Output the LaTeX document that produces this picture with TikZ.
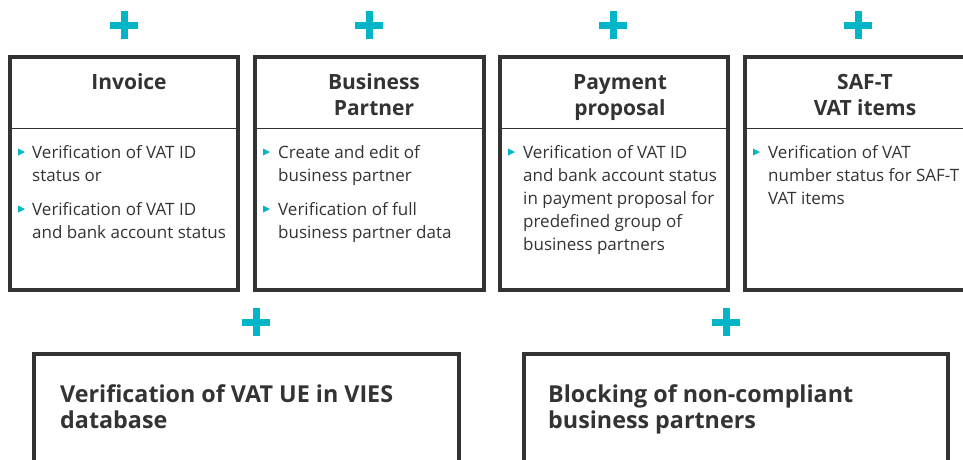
\documentclass[tikz,border=0pt]{standalone}
\usepackage{fontspec}
\setmainfont{Open Sans}
\definecolor{plusc}{HTML}{00B5C8}
\definecolor{ink}{HTML}{333333}
\tikzset{
  box/.style={draw=ink, line width=4pt},
  divider/.style={draw=ink, line width=1pt},
  plussign/.style={minimum size=28pt, inner sep=0pt, path picture={
     \fill[plusc] ([xshift=-14pt,yshift=-3.5pt]path picture bounding box.center) rectangle ++(28pt,7pt);
     \fill[plusc] ([xshift=-3.5pt,yshift=-14pt]path picture bounding box.center) rectangle ++(7pt,28pt);}},
  title/.style={font=\fontsize{21}{26}\selectfont\bfseries, text=ink, align=center, inner sep=0pt, anchor=base},
  bigtitle/.style={font=\fontsize{23.3}{26.5}\selectfont\bfseries, text=ink, align=left, inner sep=0pt, anchor=base west},
  body/.style={font=\fontsize{17}{23}\selectfont, text=ink, align=left, inner sep=0pt, anchor=base west},
  bullet/.style={fill=plusc}
}
\begin{document}
\begin{tikzpicture}[x=1pt,y=-1pt]
\useasboundingbox (0,0) rectangle (963,459);
% plus signs
\node[plussign] (p1) at (124,25) {};
\node[plussign] (p2) at (369,25) {};
\node[plussign] (p3) at (613,25) {};
\node[plussign] (p4) at (858,25) {};
\node[plussign] (p5) at (256,322) {};
\node[plussign] (p6) at (726,322) {};
% top boxes
\draw[box] (10,57) rectangle (238,290);
\draw[divider] (10,128) -- (238,128);
\draw[box] (255,57) rectangle (484,290);
\draw[divider] (255,128) -- (484,128);
\draw[box] (500,57) rectangle (728,290);
\draw[divider] (500,128) -- (728,128);
\draw[box] (745,57) rectangle (985,290);
\draw[divider] (745,128) -- (985,128);
% bottom boxes
\draw[box] (34,354) rectangle (459,480);
\draw[box] (524,354) rectangle (948,480);
% titles (anchor = baseline of last line)
\node[title] (t1) at (129,89) {Invoice};
\node[title] (t2) at (374,115) {Business\\Partner};
\node[title] (t3) at (620,115) {Payment\\proposal};
\node[title] (t4) at (865,115) {SAF-T\\VAT items};
\node[bigtitle] (t5) at (60,428.5) {Verification of VAT UE in VIES\\database};
\node[bigtitle] (t6) at (548,428.5) {Blocking of non-compliant\\business partners};
% bodies
\node[body] (b1a) at (32,181) {Verification of VAT ID\\status or};
\node[body] (b1b) at (32,238) {Verification of VAT ID\\and bank account status};
\node[body] (b2a) at (278,181) {Create and edit of\\business partner};
\node[body] (b2b) at (278,238) {Verification of full\\business partner data};
\node[body] (b3a) at (523,250) {Verification of VAT ID\\and bank account status\\in payment proposal for\\predefined group of\\business partners};
\node[body] (b4a) at (768,204) {Verification of VAT\\number status for SAF-T\\VAT items};
% bullets
\foreach \x/\y in {18/152, 18/209, 263/152, 263/209, 508/152, 753/152}
  \fill[bullet] (\x,\y-3.5) -- (\x+7,\y) -- (\x,\y+3.5) -- cycle;
\end{tikzpicture}
\end{document}
